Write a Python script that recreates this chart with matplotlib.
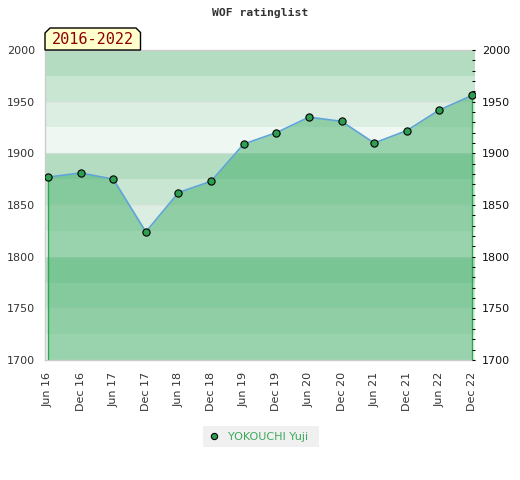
import numpy as np
import matplotlib
matplotlib.use('Agg')
import matplotlib.pyplot as plt
from matplotlib.patches import Polygon, Rectangle
from matplotlib.lines import Line2D

plt.rcParams.update({'font.size': 8, 'font.family': 'DejaVu Sans'})

# data
periods = ['Jun 16', 'Dec 16', 'Jun 17', 'Dec 17', 'Jun 18', 'Dec 18', 'Jun 19',
           'Dec 19', 'Jun 20', 'Dec 20', 'Jun 21', 'Dec 21', 'Jun 22', 'Dec 22']
ratings = [1877, 1881, 1875, 1824, 1862, 1873, 1909,
           1920, 1935, 1931, 1910, 1922, 1942, 1956]
player = 'YOKOUCHI Yuji'
span_label = '2016-2022'
y_low, y_high = 1700, 2000

W, H = 520, 480
fig = plt.figure(figsize=(W / 100, H / 100), dpi=100)

def px(x0, y0):
	# figure pixel (from top-left) -> figure fraction
	return x0 / W, 1 - y0 / H

L, R, T, B = 45, 475, 50, 360
ax = fig.add_axes([L / W, 1 - B / H, (R - L) / W, (B - T) / H])

x = np.arange(len(periods))
pad = 3.0 * (len(periods) - 1) / (R - L - 6)
ax.set_xlim(-pad, len(periods) - 1 + pad)
ax.set_ylim(y_low, y_high)

# background bands, 25 wide, 4-colour cycle per hundred
band_colors = {0: '#eef7f1', 25: '#dceee2', 50: '#c8e6d1', 75: '#b3dcc1'}
for v in range(y_low, y_high, 25):
	ax.axhspan(v, v + 25, color=band_colors[v % 100], lw=0, zorder=0)

for v in range(y_low + 50, y_high, 50):
	ax.axhline(v, color='#e0e0e0', lw=1, alpha=0.6, zorder=1)

# area under the rating line
ax.fill_between(x, ratings, y_low, color='#3bac62', alpha=0.47, lw=0, zorder=2)
ax.vlines([x[0], x[-1]], y_low, [ratings[0], ratings[-1]], color='#2ea84f', lw=1, zorder=3)
ax.plot(x, ratings, color='#5ea4d8', lw=1.2, zorder=4)
ax.plot(x, ratings, ls='none', marker='o', ms=5.2, mfc='#2e9e50', mec='black', mew=0.8, zorder=5)

ax.set_xticks(x, periods, rotation=90, color='#333333')
ax.tick_params(axis='x', length=0, pad=8.5)
ax.set_yticks(np.arange(y_low, y_high + 1, 50))
ax.tick_params(axis='y', length=0, pad=7, colors='#333333')

for s in ['left', 'bottom', 'top']:
	ax.spines[s].set_color('#cccccc')
	ax.spines[s].set_linewidth(1)
ax.spines['right'].set_visible(False)

ax2 = ax.twinx()
ax2.set_ylim(y_low, y_high)
ax2.set_yticks(np.arange(y_low, y_high + 1, 50))
ax2.set_yticks(np.arange(y_low + 10, y_high, 10), minor=True)
ax2.tick_params(axis='y', which='both', direction='in', length=2, width=0.75, color='black', pad=5, labelcolor='#111111')
for s in ax2.spines.values():
	s.set_visible(False)

# title
fig.text(*px(260, 13), 'WOF ratinglist', ha='center', va='center',
		 family='DejaVu Sans Mono', weight='bold', fontsize=8.2, color='#333333')

# period tag with chamfered top corners
tag = Polygon([px(45, 50), px(45, 33), px(50, 28), px(136, 28), px(140.5, 32.5), px(140.5, 50)],
			  closed=True, transform=fig.transFigure, facecolor='#ffffcc', edgecolor='black', lw=1, zorder=10)
fig.add_artist(tag)
fig.text(*px(92.5, 40), span_label, ha='center', va='center', family='DejaVu Sans Mono',
		 fontsize=11, color='#8b0000', zorder=11)

# legend
fig.add_artist(Rectangle(px(203, 447), 116 / W, 21 / H, transform=fig.transFigure,
						 facecolor='#f0f0f0', edgecolor='none'))
fig.add_artist(Line2D([214 / W], [1 - 435.7 / H], transform=fig.transFigure, ls='none', marker='o',
					  ms=4.5, mfc='#2e9e50', mec='black', mew=0.8))
fig.text(*px(228, 436.5), player, ha='left', va='center', fontsize=8, color='#3caa5a')

fig.savefig('out.png', dpi=100)
